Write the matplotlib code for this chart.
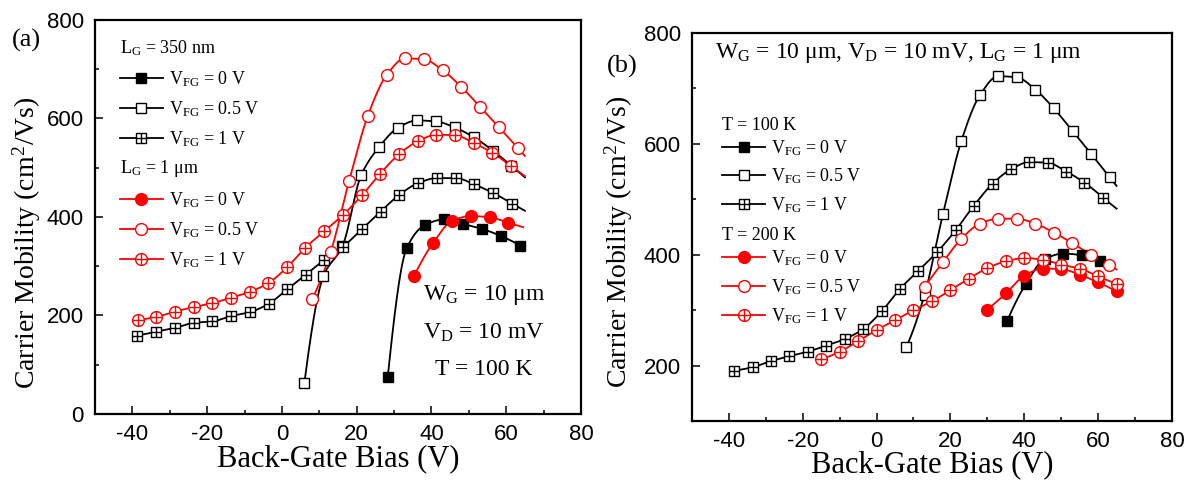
import numpy as np
import matplotlib
matplotlib.use("Agg")
import matplotlib.pyplot as plt
from matplotlib.path import Path
from matplotlib.lines import Line2D

plt.rcParams["font.family"] = "Liberation Serif"
plt.rcParams["mathtext.fontset"] = "stix"
plt.rcParams["axes.unicode_minus"] = False

# ---- data (mobility in cm^2/Vs vs back-gate bias in V) ----
# panel (a): L_G = 350 nm, T = 100 K
a350_v0_x = [28.3, 33.4, 38.3, 43.4, 48.4, 53.5, 58.7, 63.8]
a350_v0_y = [75, 337, 384, 395, 386, 376, 361, 342]
a350_v05_x = [6.0, 11.1, 16.2, 21.2, 26.1, 31.0, 36.1, 41.2, 46.2, 51.3, 56.4, 61.3]
a350_v05_y = [63, 280, 341, 485, 543, 581, 596, 594, 582, 562, 535, 504]
a350_v1_x = [-38.7, -33.6, -28.5, -23.6, -18.6, -13.5, -8.5, -3.5, 1.4, 6.4, 11.3,
             16.4, 21.5, 26.4, 31.4, 36.5, 41.4, 46.5, 51.5, 56.4, 61.6]
a350_v1_y = [159, 167, 175, 185, 188, 199, 207, 224, 253, 283, 313,
             340, 376, 411, 445, 469, 479, 479, 466, 449, 427]

# L_G = 1 um, T = 100 K (red in panel a, black in panel b)
t100_v0_x = [35.4, 40.4, 45.5, 50.6, 55.6, 60.6]
t100_v0_y = [281, 347, 392, 402, 399, 388]
t100_v05_x = [8.0, 13.0, 18.0, 23.0, 28.0, 32.9, 38.0, 43.0, 48.0, 53.1, 58.1, 63.1]
t100_v05_y = [233, 328, 474, 606, 688, 722, 720, 698, 664, 623, 582, 540]
t100_v1_x = [-38.6, -33.6, -28.6, -23.6, -18.7, -13.6, -8.6, -3.6, 1.4, 6.3, 11.3,
             16.3, 21.4, 26.3, 31.4, 36.4, 41.3, 46.3, 51.4, 56.3, 61.3]
t100_v1_y = [191, 197, 208, 217, 225, 236, 248, 266, 298, 338, 371,
             404, 444, 488, 528, 554, 567, 566, 550, 530, 503]

# L_G = 1 um, T = 200 K (panel b)
t200_v0_x = [30, 35, 40, 45, 50, 55, 60, 65]
t200_v0_y = [301, 330, 362, 375, 374, 364, 350, 334]
t200_v05_x = [13, 18, 23, 28, 33, 38, 43, 48, 53, 58, 63]
t200_v05_y = [342, 387, 429, 456, 465, 465, 456, 440, 421, 400, 381]
t200_v1_x = [-15, -10, -5, 0, 5, 10, 15, 20, 25, 30, 35, 40, 45, 50, 55, 60, 65]
t200_v1_y = [211, 225, 244, 264, 282, 300, 316, 336, 357, 376, 388, 394, 391, 382, 375, 361, 347]

RED = "#ff0000"
BLK = "#000000"

# marker shapes: square with cross, circle with cross
SQ_PLUS = Path([(-1, -1), (1, -1), (1, 1), (-1, 1), (-1, -1), (0, -1), (0, 1), (-1, 0), (1, 0)],
               [Path.MOVETO, Path.LINETO, Path.LINETO, Path.LINETO, Path.CLOSEPOLY,
                Path.MOVETO, Path.LINETO, Path.MOVETO, Path.LINETO])
CI_PLUS = Path.make_compound_path(
    Path.unit_circle(),
    Path([(0, -1), (0, 1)], [Path.MOVETO, Path.LINETO]),
    Path([(-1, 0), (1, 0)], [Path.MOVETO, Path.LINETO]))

STYLES = {
    "sq_fill": dict(marker="s", mfc="k", ms=7.5),
    "sq_open": dict(marker="s", mfc="white", ms=7.5),
    "sq_plus": dict(marker=SQ_PLUS, mfc="white", ms=7.5),
    "ci_fill": dict(marker="o", ms=8.5),
    "ci_open": dict(marker="o", mfc="white", ms=8.5),
    "ci_plus": dict(marker=CI_PLUS, mfc="white", ms=8.5),
}


def smooth(x, y, x_end=None, n=40):
    """shape-preserving cubic through the points (like Origin's spline connect)"""
    x = np.asarray(x, float); y = np.asarray(y, float)
    h = np.diff(x); d = np.diff(y) / h
    m = np.zeros_like(x)
    for k in range(1, len(x) - 1):
        if d[k - 1] * d[k] > 0:
            w1 = 2 * h[k] + h[k - 1]; w2 = h[k] + 2 * h[k - 1]
            m[k] = (w1 + w2) / (w1 / d[k - 1] + w2 / d[k])
    m[0] = ((2 * h[0] + h[1]) * d[0] - h[0] * d[1]) / (h[0] + h[1])
    if np.sign(m[0]) != np.sign(d[0]): m[0] = 0
    m[-1] = ((2 * h[-1] + h[-2]) * d[-1] - h[-1] * d[-2]) / (h[-1] + h[-2])
    if np.sign(m[-1]) != np.sign(d[-1]): m[-1] = 0
    xs, ys = [], []
    for k in range(len(x) - 1):
        t = np.linspace(0, 1, n)
        h00 = 2*t**3 - 3*t**2 + 1; h10 = t**3 - 2*t**2 + t
        h01 = -2*t**3 + 3*t**2; h11 = t**3 - t**2
        xs.append(x[k] + t * h[k])
        ys.append(h00*y[k] + h10*h[k]*m[k] + h01*y[k+1] + h11*h[k]*m[k+1])
    xs = np.concatenate(xs); ys = np.concatenate(ys)
    if x_end is not None and x_end > x[-1]:
        xs = np.append(xs, x_end); ys = np.append(ys, y[-1] + d[-1] * (x_end - x[-1]))
    return xs, ys


def series(ax, x, y, color, style, x_end=None):
    xs, ys = smooth(x, y, x_end)
    ax.plot(xs, ys, color=color, lw=1.3, zorder=2)
    st = STYLES[style]
    ax.plot(x, y, ls="none", marker=st["marker"], ms=st["ms"], mec=color,
            mfc=st.get("mfc", color), mew=1.0, zorder=3)
    return Line2D([], [], color=color, lw=1.3, marker=st["marker"], ms=st["ms"],
                  mec=color, mfc=st.get("mfc", color), mew=1.0)


def vfg(v):
    return r"$\mathregular{V_{FG}}$ = " + v + " V"


def group_legend(ax, handles, title, x, y, sep, spacing):
    leg = ax.legend(handles=handles, labels=[vfg("0"), vfg("0.5"), vfg("1")],
                    title=title, loc="upper left", bbox_to_anchor=(x, y),
                    frameon=False, fontsize=13, title_fontsize=13, alignment="left",
                    handlelength=2.4, handletextpad=0.3, labelspacing=spacing,
                    borderpad=0, borderaxespad=0, numpoints=1)
    leg._legend_box.sep = sep
    ax.add_artist(leg)
    ax.legend_ = None  # keep it only as an artist, so it is drawn once


def style_axes(ax, ylim, yticks):
    ax.set_xlim(-50, 80); ax.set_ylim(*ylim)
    ax.set_xticks(np.arange(-40, 81, 20))
    ax.set_xticks(np.arange(-30, 80, 20), minor=True)
    ax.set_yticks(yticks)
    ax.set_yticks(np.arange(100, 800, 200), minor=True)
    ax.tick_params(which="both", direction="in", top=False, right=False, width=1.1,
                   labelsize=16, labelfontfamily="Liberation Sans")
    ax.tick_params(which="major", length=5.5)
    ax.tick_params(which="minor", length=3)
    ax.tick_params(axis="x", pad=7)
    ax.tick_params(axis="y", pad=8)
    for s in ax.spines.values():
        s.set_linewidth(1.6)
    ax.set_xlabel("Back-Gate Bias (V)", fontsize=22)
    ax.set_ylabel(r"Carrier Mobility (cm$^{\mathregular{2}}$/Vs)", fontsize=20)


fig = plt.figure(figsize=(11.91, 4.83), dpi=100)
axa = fig.add_axes([0.0798, 0.1429, 0.408, 0.8157])
axb = fig.add_axes([0.581, 0.1284, 0.403, 0.8033])

# ---------------- panel (a) ----------------
hb = [series(axa, a350_v0_x, a350_v0_y, BLK, "sq_fill"),
      series(axa, a350_v05_x, a350_v05_y, BLK, "sq_open", 65),
      series(axa, a350_v1_x, a350_v1_y, BLK, "sq_plus", 65)]
hr = [series(axa, t100_v0_x, t100_v0_y, RED, "ci_fill", 64.5),
      series(axa, t100_v05_x, t100_v05_y, RED, "ci_open", 65),
      series(axa, t100_v1_x, t100_v1_y, RED, "ci_plus", 65)]
style_axes(axa, (0, 800), np.arange(0, 801, 200))
group_legend(axa, hb, r"$\mathregular{L_G}$ = 350 nm", 0.051, 0.954, 8.5, 0.55)
group_legend(axa, hr, r"$\mathregular{L_G}$ = 1 μm", 0.051, 0.650, 8.5, 0.55)
for txt, yy in [(r"$\mathregular{W_G}$ = 10 μm", 0.302),
                (r"$\mathregular{V_D}$ = 10 mV", 0.206),
                ("T = 100 K", 0.112)]:
    axa.text(0.80, yy, txt, transform=axa.transAxes, ha="center", va="center", fontsize=17)
axa.xaxis.set_label_coords(0.5, -0.076)
axa.yaxis.set_label_coords(-0.107, 0.434)

# ---------------- panel (b) ----------------
hb = [series(axb, t100_v0_x, t100_v0_y, BLK, "sq_fill"),
      series(axb, t100_v05_x, t100_v05_y, BLK, "sq_open", 65),
      series(axb, t100_v1_x, t100_v1_y, BLK, "sq_plus", 65)]
hr = [series(axb, t200_v0_x, t200_v0_y, RED, "ci_fill"),
      series(axb, t200_v05_x, t200_v05_y, RED, "ci_open", 65),
      series(axb, t200_v1_x, t200_v1_y, RED, "ci_plus")]
style_axes(axb, (100, 800), np.arange(200, 801, 200))
group_legend(axb, hb, "T = 100 K", 0.0625, 0.784, 3, 0.5)
group_legend(axb, hr, "T = 200 K", 0.0625, 0.499, 3, 0.5)
axb.text(0.048, 0.948, r"$\mathregular{W_G}$ = 10 μm, $\mathregular{V_D}$ = 10 mV, "
         r"$\mathregular{L_G}$ = 1 μm", transform=axb.transAxes, ha="left", va="center",
         fontsize=17)
axb.xaxis.set_label_coords(0.5, -0.075)
axb.yaxis.set_label_coords(-0.119, 0.461)

fig.text(26 / 1191, 1 - 40 / 483, "(a)", fontsize=19, ha="center", va="center")
fig.text(622 / 1191, 1 - 66 / 483, "(b)", fontsize=19, ha="center", va="center")

fig.savefig("out.png", dpi=100)
